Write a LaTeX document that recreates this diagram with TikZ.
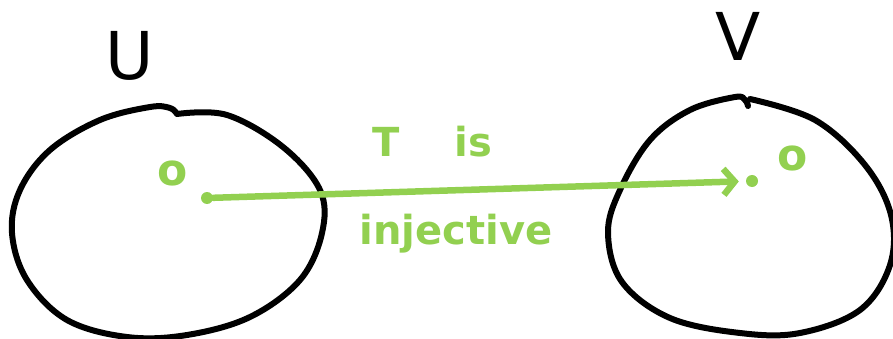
\documentclass[tikz,border=0pt]{standalone}
\usepackage{fontspec}
\setmainfont{DejaVu Sans}
\usetikzlibrary{arrows.meta}
\definecolor{HGreen}{HTML}{92D050}
\tikzset{
    blob/.style={black, line width=6pt, line cap=round, line join=round},
    setname/.style={black, font=\fontsize{66}{66}\selectfont},
    zerolabel/.style={text=HGreen, font=\bfseries\fontsize{44}{44}\selectfont, inner sep=0pt},
    pointdot/.style={circle, fill=HGreen, inner sep=0pt, minimum size=12pt},
    maparrow/.style={HGreen, line width=6.5pt, line cap=round,
        -{Straight Barb[length=11pt, width=26pt, line width=6.5pt]}},
    maptext/.style={text=HGreen, anchor=base,
        font=\bfseries\fontsize{40}{44}\selectfont}
}
\begin{document}
\begin{tikzpicture}[x=1pt, y=-1pt]
\useasboundingbox (0,0) rectangle (893,339);

% domain U
\begin{scope}[name prefix=U-]
    \draw[blob] plot[smooth, tension=0.6] coordinates {
        (177,114) (227,115) (283,147) (320,190) (322,233) (300,280)
        (250,317) (187,335) (127,337) (67,320) (27,280) (12,233)
        (20,190) (50,150) (100,120) (150,107) (170,108) (177,114)};
    \node[setname] (name) at (130,56) {U};
    \node[zerolabel] (zero) at (173,173) {o};
    \node[pointdot] (dot) at (207,198) {};
\end{scope}

% codomain V
\begin{scope}[name prefix=V-]
    \draw[blob] plot[smooth, tension=0.6] coordinates {
        (750,99) (815,120) (865,165) (891,215) (890,265) (860,310)
        (800,333) (740,333) (670,318) (622,282) (608,233) (620,190)
        (650,140) (690,110) (735,97) (745,100) (748,106)};
    \node[setname] (name) at (738,36) {V};
    \node[zerolabel] (zero) at (793,158) {o};
    \node[pointdot] (dot) at (752,181) {};
\end{scope}

\draw[maparrow, shorten >=7pt] (U-dot) -- (V-dot);
\node[maptext] (claim) at (432,157) {T\hspace{55pt}is};
\node[maptext] (claimb) at (456,244) {injective};
\end{tikzpicture}
\end{document}
